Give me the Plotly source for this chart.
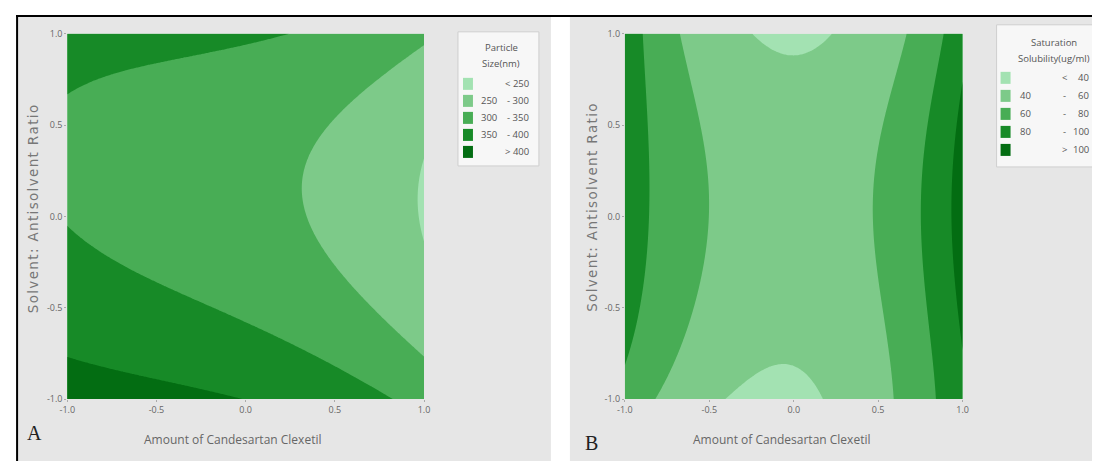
import numpy as np
import plotly.graph_objects as go

# ---------------- data ----------------
# Panel A: points lying on the contour borders (x = amount, y = ratio, z = particle size, nm)
a_x = [1.00, 0.985, 0.97, 0.985, 1.00,
       1.00, 0.80, 0.60, 0.40, 0.34, 0.40, 0.60, 0.80, 1.00,
       -1.00, -0.70, -0.44, -0.20, 0.12,
       -1.00, -0.50, 0.00, 0.40, 0.80,
       -1.00, -0.50, 0.05,
       -1.00, -1.00, -1.00, 1.00, 1.00, 1.00]
a_y = [0.39, 0.25, 0.08, -0.10, -0.24,
       0.91, 0.77, 0.60, 0.33, 0.08, -0.15, -0.40, -0.555, -0.68,
       0.67, 0.76, 0.84, 0.92, 1.00,
       -0.09, -0.34, -0.58, -0.80, -1.00,
       -0.77, -0.90, -1.00,
       0.29, 1.00, -1.00, 1.00, -1.00, 0.08]
a_z = [250, 250, 250, 250, 250,
       300, 300, 300, 300, 300, 300, 300, 300, 300,
       350, 350, 350, 350, 350,
       350, 350, 350, 350, 350,
       400, 400, 400,
       343, 368, 427, 306, 330, 242]

# Panel B: points on the contour borders (z = saturation solubility, ug/ml)
b_x = [-0.31, -0.22, -0.12, -0.01, 0.10, 0.20, 0.28,
       -0.41, -0.33, -0.22, -0.10, 0.02, 0.12, 0.20,
       -0.65, -0.60, -0.55, -0.52, -0.55, -0.60, -0.68, -0.81,
       0.65, 0.58, 0.52, 0.49, 0.50, 0.53, 0.56, 0.59,
       -0.90, -0.87, -0.85, -0.86, -0.90, -1.00,
       0.89, 0.81, 0.76, 0.76, 0.78, 0.84,
       1.00, 0.95, 0.93, 0.95, 1.00,
       -0.01]
b_y = [1.00, 0.97, 0.935, 0.92, 0.93, 0.96, 1.00,
       -1.00, -0.92, -0.86, -0.83, -0.86, -0.92, -1.00,
       1.00, 0.70, 0.40, 0.10, -0.20, -0.50, -0.75, -1.00,
       1.00, 0.70, 0.40, 0.10, -0.20, -0.50, -0.75, -1.00,
       1.00, 0.60, 0.20, -0.20, -0.50, -0.78,
       1.00, 0.60, 0.20, -0.20, -0.50, -1.00,
       0.70, 0.45, 0.10, -0.30, -0.70,
       0.10]
b_z = [40] * 7 + [40] * 7 + [60] * 8 + [60] * 8 + [80] * 6 + [80] * 6 + [100] * 5 + [52]

a_levels = [250, 300, 350, 400]
b_levels = [40, 60, 80, 100]
a_legend_title = ["Particle", "Size(nm)"]
a_legend_labels = [("", "< 250"), ("250", "- 300"), ("300", "- 350"), ("350", "- 400"), ("", "> 400")]
b_legend_title = ["Saturation", "Solubility(ug/ml)"]
b_legend_labels = [("", "<", "40"), ("40", "-", "60"), ("60", "-", "80"), ("80", "-", "100"), ("", ">", "100")]

tick_vals = [-1.0, -0.5, 0.0, 0.5, 1.0]
tick_text = ["-1.0", "-0.5", "0.0", "0.5", "1.0"]
x_title = "Amount of Candesartan Clexetil"
y_title = "Solvent: Antisolvent Ratio"

greens = ["#a3e2b2", "#7dca89", "#48ad55", "#178a27", "#036d12"]

# ---------------- surface fitted through the read points ----------------
def fit_surface(px, py, pz, deg=3, n=201):
    px, py, pz = map(np.asarray, (px, py, pz))
    terms = [(i, j) for i in range(deg + 1) for j in range(deg + 1 - i)]
    A = np.column_stack([px**i * py**j for i, j in terms])
    coef, *_ = np.linalg.lstsq(A, pz, rcond=None)
    g = np.linspace(-1, 1, n)
    X, Y = np.meshgrid(g, g)
    Z = sum(c * X**i * Y**j for c, (i, j) in zip(coef, terms))
    return g, Z

ga, Za = fit_surface(a_x, a_y, a_z, deg=3)
gb, Zb = fit_surface(b_x, b_y, b_z, deg=5)

cscale = [[k / 4, c] for k, c in enumerate(greens)]

# the photographed page shows the figure slightly offset and scaled
W, H = 1100, 461
OX, OY, SX, SY = 14.7, 14.2, 0.988, 0.971

def px2x(p):
    return (p - OX) / SX / W

def py2y(p):
    return 1 - (p - OY) / SY / H

fig = go.Figure()
for g, Z, lv, xa, ya in [(ga, Za, a_levels, "x", "y"), (gb, Zb, b_levels, "x2", "y2")]:
    step = lv[1] - lv[0]
    fig.add_trace(go.Contour(
        x=g, y=g, z=Z, xaxis=xa, yaxis=ya,
        contours=dict(start=lv[0], end=lv[-1], size=step, coloring="fill"),
        colorscale=cscale, showscale=False, line=dict(width=0),
        hoverinfo="skip"))

axis_common = dict(range=[-1, 1], tickvals=tick_vals, ticktext=tick_text,
                   tickfont=dict(family="Open Sans", size=9, color="#666"),
                   ticks="outside", ticklen=2, tickcolor="#aaa",
                   showgrid=False, zeroline=False, showline=False, fixedrange=True)

ytop, ybot = 33, 398
fig.update_layout(
    width=W, height=H, margin=dict(l=0, r=0, t=0, b=0),
    paper_bgcolor="white", plot_bgcolor="rgba(0,0,0,0)",
    showlegend=False,
    xaxis=dict(domain=[px2x(66), px2x(423)], anchor="y", **axis_common),
    yaxis=dict(domain=[py2y(ybot), py2y(ytop)], anchor="x", **axis_common),
    xaxis2=dict(domain=[px2x(624), px2x(962)], anchor="y2", **axis_common),
    yaxis2=dict(domain=[py2y(ybot), py2y(ytop)], anchor="x2", **axis_common),
)

shapes = []
ann = []
# panel backgrounds and frame
shapes.append(dict(type="rect", xref="paper", yref="paper", layer="below",
                   x0=0, x1=px2x(550), y0=0, y1=1,
                   fillcolor="#e6e6e6", line=dict(width=0)))
shapes.append(dict(type="rect", xref="paper", yref="paper", layer="below",
                   x0=px2x(569), x1=1, y0=0, y1=1,
                   fillcolor="#e6e6e6", line=dict(width=0)))
shapes.append(dict(type="line", xref="paper", yref="paper",
                   x0=0, x1=1, y0=0.998, y1=0.998,
                   line=dict(color="black", width=2)))
shapes.append(dict(type="line", xref="paper", yref="paper",
                   x0=0.001, x1=0.001, y0=0, y1=1,
                   line=dict(color="black", width=2)))

def text(x, y, s, size=9, color="#555", family="Open Sans", xanchor="center", angle=0):
    ann.append(dict(xref="paper", yref="paper", x=px2x(x), y=py2y(y), text=s,
                    showarrow=False, xanchor=xanchor, yanchor="middle", textangle=angle,
                    font=dict(family=family, size=size, color=color)))

HS = "\u200a"
y_title_spaced = HS.join(y_title)

# axis titles
text(231, 438, x_title, size=12, color="#666")
text(781, 438, x_title, size=12, color="#666")
text(32, 208, y_title_spaced, size=13.5, color="#777", family="DejaVu Sans", angle=-90)
text(591, 207, y_title_spaced, size=13.5, color="#777", family="DejaVu Sans", angle=-90)
# panel letters
text(33, 432, "A", size=20, color="#222", family="Liberation Serif")
text(591, 442, "B", size=20, color="#222", family="Liberation Serif")

# legend A
shapes.append(dict(type="rect", xref="paper", yref="paper",
                   x0=px2x(457), x1=px2x(538), y0=py2y(165), y1=py2y(31),
                   fillcolor="#f7f7f7", line=dict(color="#cfcfcf", width=1)))
text(501, 47, a_legend_title[0], size=9.5)
text(500, 63, a_legend_title[1], size=9.5)
for k, (lo, hi) in enumerate(a_legend_labels):
    yc = 83 + k * 17
    shapes.append(dict(type="rect", xref="paper", yref="paper",
                       x0=px2x(462), x1=px2x(472), y0=py2y(yc + 6), y1=py2y(yc - 6),
                       fillcolor=greens[k], line=dict(width=0)))
    if lo:
        text(478, yc, lo, size=9.5, xanchor="left")
    text(530, yc, hi, size=9.5, xanchor="right")

# legend B
shapes.append(dict(type="rect", xref="paper", yref="paper",
                   x0=px2x(996), x1=px2x(1096), y0=py2y(166), y1=py2y(24),
                   fillcolor="#f7f7f7", line=dict(color="#cfcfcf", width=1)))
text(1053, 42, b_legend_title[0], size=9.5)
text(1053, 58, b_legend_title[1], size=9.5)
for k, (lo, mid, hi) in enumerate(b_legend_labels):
    yc = 77 + k * 18
    shapes.append(dict(type="rect", xref="paper", yref="paper",
                       x0=px2x(1000), x1=px2x(1010), y0=py2y(yc + 6), y1=py2y(yc - 6),
                       fillcolor=greens[k], line=dict(width=0)))
    if lo:
        text(1017, yc, lo, size=9.5, xanchor="left")
    text(1064, yc, mid, size=9.5)
    text(1090, yc, hi, size=9.5, xanchor="right")

fig.update_layout(shapes=shapes, annotations=ann)
fig.write_html("out.html")
